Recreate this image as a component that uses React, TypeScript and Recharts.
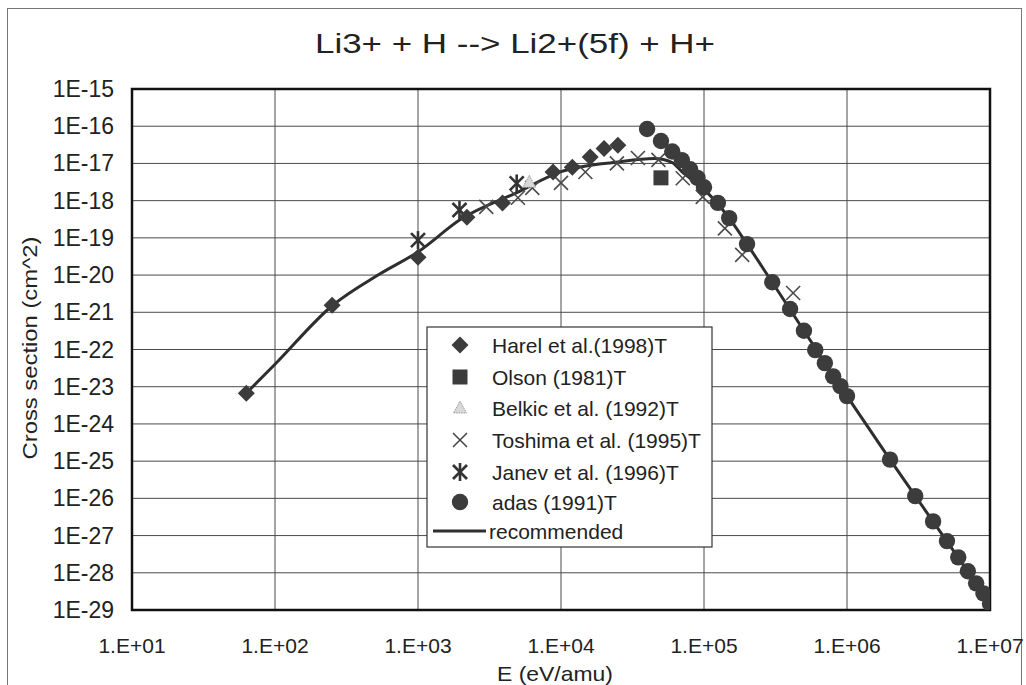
import React from 'react';
import { ComposedChart, Scatter, XAxis, YAxis, CartesianGrid, ReferenceArea } from 'recharts';

const xTicks = [1e1, 1e2, 1e3, 1e4, 1e5, 1e6, 1e7];
const yTicks = [1e-15, 1e-16, 1e-17, 1e-18, 1e-19, 1e-20, 1e-21, 1e-22, 1e-23, 1e-24, 1e-25, 1e-26, 1e-27, 1e-28, 1e-29];

const harel = [
  { x: 63, y: 6.7e-24 },
  { x: 251, y: 1.55e-21 },
  { x: 1000, y: 3e-20 },
  { x: 2200, y: 3.6e-19 },
  { x: 3900, y: 8.7e-19 },
  { x: 8800, y: 5.9e-18 },
  { x: 12000, y: 7.9e-18 },
  { x: 16000, y: 1.5e-17 },
  { x: 20000, y: 2.5e-17 },
  { x: 25000, y: 3.1e-17 },
];

const olson = [{ x: 50000, y: 4.1e-18 }];

const belkic = [{ x: 6000, y: 3.1e-18 }];

const toshima = [
  { x: 3000, y: 6.8e-19 },
  { x: 5000, y: 1.2e-18 },
  { x: 6300, y: 2.2e-18 },
  { x: 10000, y: 3e-18 },
  { x: 14800, y: 5.9e-18 },
  { x: 24600, y: 1e-17 },
  { x: 34500, y: 1.4e-17 },
  { x: 48000, y: 1.25e-17 },
  { x: 71000, y: 4e-18 },
  { x: 98000, y: 1.26e-18 },
  { x: 140000, y: 1.8e-19 },
  { x: 185000, y: 3.5e-20 },
  { x: 420000, y: 3.3e-21 },
];

const janev = [
  { x: 1000, y: 8.7e-20 },
  { x: 1950, y: 5.6e-19 },
  { x: 4900, y: 2.9e-18 },
];

const adas = [
  { x: 4e4, y: 8.4e-17 },
  { x: 5e4, y: 4e-17 },
  { x: 6e4, y: 2.1e-17 },
  { x: 7e4, y: 1.23e-17 },
  { x: 8e4, y: 7e-18 },
  { x: 9e4, y: 4.1e-18 },
  { x: 1e5, y: 2.3e-18 },
  { x: 1.25e5, y: 8.7e-19 },
  { x: 1.5e5, y: 3.4e-19 },
  { x: 2e5, y: 6.8e-20 },
  { x: 3e5, y: 6.4e-21 },
  { x: 4e5, y: 1.23e-21 },
  { x: 5e5, y: 3.2e-22 },
  { x: 6e5, y: 9.6e-23 },
  { x: 7e5, y: 4.3e-23 },
  { x: 8e5, y: 1.9e-23 },
  { x: 9e5, y: 1.04e-23 },
  { x: 1e6, y: 5.6e-24 },
  { x: 2e6, y: 1.1e-25 },
  { x: 3e6, y: 1.15e-26 },
  { x: 4e6, y: 2.4e-27 },
  { x: 5e6, y: 7.1e-28 },
  { x: 6e6, y: 2.6e-28 },
  { x: 7e6, y: 1.1e-28 },
  { x: 8e6, y: 5.2e-29 },
  { x: 9e6, y: 2.8e-29 },
  { x: 1e7, y: 1.5e-29 },
];

const recommended = [
  { x: 63, y: 6.7e-24 },
  { x: 100, y: 4e-23 },
  { x: 251, y: 1.5e-21 },
  { x: 536, y: 1.05e-20 },
  { x: 1000, y: 4.2e-20 },
  { x: 2000, y: 3.2e-19 },
  { x: 5000, y: 1.7e-18 },
  { x: 10000, y: 6e-18 },
  { x: 25000, y: 1.1e-17 },
  { x: 45000, y: 1.35e-17 },
  { x: 60000, y: 1.05e-17 },
  { x: 70000, y: 6e-18 },
  { x: 1e5, y: 2e-18 },
  { x: 1.5e5, y: 3.4e-19 },
  { x: 2e5, y: 6.8e-20 },
  { x: 3e5, y: 6.4e-21 },
  { x: 5e5, y: 3.2e-22 },
  { x: 1e6, y: 5.6e-24 },
  { x: 2e6, y: 1.1e-25 },
  { x: 5e6, y: 7e-28 },
  { x: 1e7, y: 1.5e-29 },
];

const DARK = '#3c3c3c';
const FONT = '"Liberation Sans", Arial, sans-serif';

const Diamond = ({ cx, cy }: any) => (
  <polygon points={`${cx},${cy - 8.5} ${cx + 8.5},${cy} ${cx},${cy + 8.5} ${cx - 8.5},${cy}`} fill={DARK} />
);
const Square = ({ cx, cy }: any) => <rect x={cx - 7.5} y={cy - 7.5} width={15} height={15} fill={DARK} />;
const Triangle = ({ cx, cy }: any) => (
  <polygon
    points={`${cx},${cy - 7} ${cx + 6.5},${cy + 5} ${cx - 6.5},${cy + 5}`}
    fill="#d8d8d8"
    stroke="#9a9a9a"
    strokeWidth={1}
    strokeDasharray="1.5 1"
  />
);
const Cross = ({ cx, cy }: any) => (
  <g stroke="#4a4a4a" strokeWidth={1.6}>
    <line x1={cx - 7} y1={cy - 7} x2={cx + 7} y2={cy + 7} />
    <line x1={cx - 7} y1={cy + 7} x2={cx + 7} y2={cy - 7} />
  </g>
);
const Star = ({ cx, cy }: any) => (
  <g stroke="#333" strokeWidth={2.6}>
    <line x1={cx - 7} y1={cy - 7} x2={cx + 7} y2={cy + 7} />
    <line x1={cx - 7} y1={cy + 7} x2={cx + 7} y2={cy - 7} />
    <line x1={cx} y1={cy - 9} x2={cx} y2={cy + 9} />
  </g>
);
const Dot = ({ cx, cy }: any) => <circle cx={cx} cy={cy} r={8.2} fill={DARK} />;
const NoShape = () => <g />;

const fmtX = (v: number) => `1.E+${String(Math.round(Math.log10(v))).padStart(2, '0')}`;
const fmtY = (v: number) => `1E${Math.round(Math.log10(v))}`;

const XTick = (p: any) => (
  <text x={p.x} y={p.y} textAnchor="middle" dominantBaseline="central" fontSize={21} fill="#222" fontFamily={FONT}>
    {fmtX(p.payload.value)}
  </text>
);
const YTick = (p: any) => (
  <text x={p.x} y={p.y} textAnchor="end" dominantBaseline="central" fontSize={23} fill="#222" fontFamily={FONT}>
    {fmtY(p.payload.value)}
  </text>
);

const legendRows = [
  { label: 'Harel et al.(1998)T', Shape: Diamond },
  { label: 'Olson (1981)T', Shape: Square },
  { label: 'Belkic et al. (1992)T', Shape: Triangle },
  { label: 'Toshima et al. (1995)T', Shape: Cross },
  { label: 'Janev et al. (1996)T', Shape: Star },
  { label: 'adas (1991)T', Shape: Dot },
];
const legendY = [345, 377, 408, 440, 472, 502];

export default function App() {
  return (
    <div style={{ position: 'absolute', left: 0, top: 0, width: 1026, height: 685, background: '#fff', overflow: 'hidden' }}>
      <div style={{ position: 'absolute', left: 7, top: 8, width: 1013, height: 700, border: '1px solid #777' }} />
      <div style={{ position: 'absolute', left: 0, top: 0 }}>
        <ComposedChart width={1026} height={685} margin={{ top: 89, right: 36, bottom: 0, left: 0 }}>
          <CartesianGrid stroke="#4a4a4a" strokeWidth={1} />
          <XAxis
            type="number"
            dataKey="x"
            scale="log"
            domain={[10, 1e7]}
            ticks={xTicks}
            interval={0}
            allowDataOverflow
            axisLine={false}
            tickLine={false}
            tickSize={0}
            tickMargin={35}
            height={75}
            tick={<XTick />}
          />
          <YAxis
            type="number"
            dataKey="y"
            scale="log"
            domain={[1e-29, 1e-15]}
            ticks={yTicks}
            interval={0}
            allowDataOverflow
            axisLine={false}
            tickLine={false}
            tickSize={0}
            tickMargin={18}
            width={132}
            tick={<YTick />}
          />
          <Scatter
            data={recommended}
            line={{ stroke: '#2e2e2e', strokeWidth: 3 }}
            lineJointType="monotoneX"
            shape={<NoShape />}
            isAnimationActive={false}
          />
          <Scatter data={toshima} shape={<Cross />} isAnimationActive={false} />
          <Scatter data={belkic} shape={<Triangle />} isAnimationActive={false} />
          <Scatter data={janev} shape={<Star />} isAnimationActive={false} />
          <Scatter data={harel} shape={<Diamond />} isAnimationActive={false} />
          <Scatter data={olson} shape={<Square />} isAnimationActive={false} />
          <Scatter data={adas} shape={<Dot />} isAnimationActive={false} />
          <ReferenceArea x1={10} x2={1e7} y1={1e-29} y2={1e-15} fill="none" stroke="#111" strokeWidth={2.5} />
        </ComposedChart>
      </div>
      <svg width={1026} height={685} style={{ position: 'absolute', left: 0, top: 0, pointerEvents: 'none' }}>
        <text
          x={515}
          y={43}
          textAnchor="middle"
          dominantBaseline="central"
          fontSize={28}
          fill="#222"
          fontFamily={'"Liberation Sans Narrow", ' + FONT}
          textLength={400}
          lengthAdjust="spacingAndGlyphs"
        >
          Li3+ + H --&gt; Li2+(5f) + H+
        </text>
        <text
          transform="translate(29,348) rotate(-90)"
          textAnchor="middle"
          dominantBaseline="central"
          fontSize={21}
          fill="#222"
          fontFamily={FONT}
          textLength={223}
          lengthAdjust="spacingAndGlyphs"
        >
          Cross section (cm^2)
        </text>
        <text
          x={555}
          y={673}
          textAnchor="middle"
          dominantBaseline="central"
          fontSize={21}
          fill="#222"
          fontFamily={FONT}
          textLength={116}
          lengthAdjust="spacingAndGlyphs"
        >
          E (eV/amu)
        </text>
        <rect x={427} y={327} width={285} height={220} fill="#fff" stroke="#333" strokeWidth={1.2} />
        {legendRows.map((r, i) => (
          <g key={r.label}>
            <r.Shape cx={460} cy={legendY[i]} />
            <text x={492} y={legendY[i]} dominantBaseline="central" fontSize={21} fill="#222" fontFamily={FONT}>
              {r.label}
            </text>
          </g>
        ))}
        <line x1={433} y1={531} x2={486} y2={531} stroke="#2e2e2e" strokeWidth={3} />
        <text x={489} y={531} dominantBaseline="central" fontSize={21} fill="#222" fontFamily={FONT}>
          recommended
        </text>
      </svg>
    </div>
  );
}
